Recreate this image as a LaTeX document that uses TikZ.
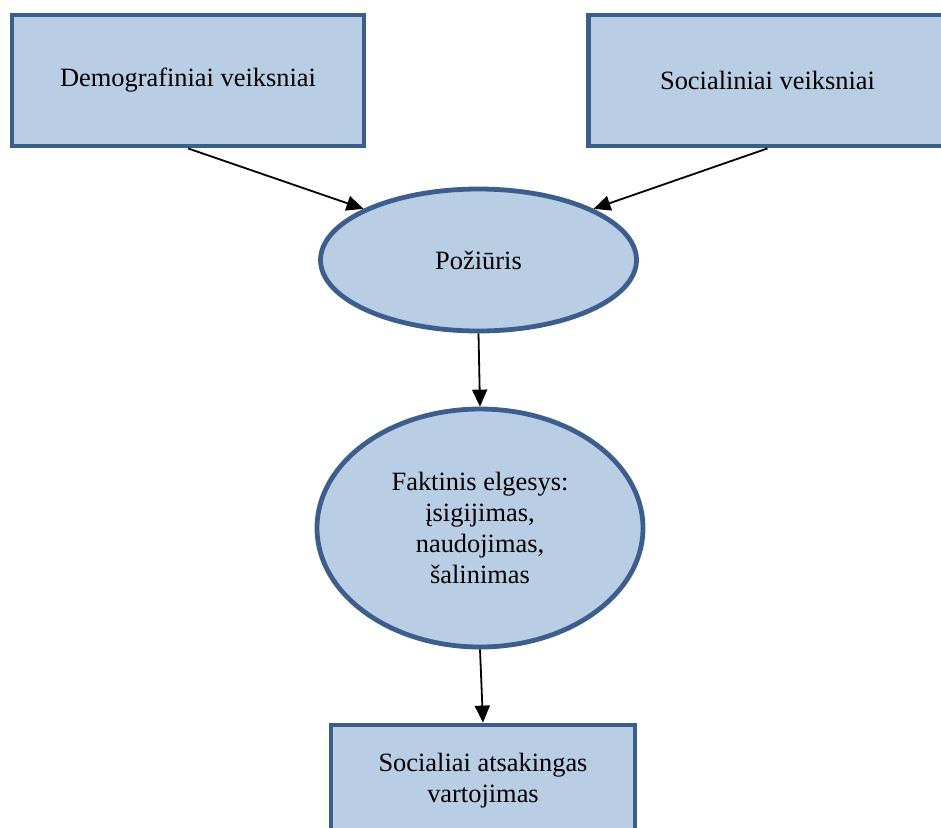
\documentclass[tikz,border=0pt]{standalone}
\usepackage{fontspec}
\setmainfont{Liberation Serif}
\usetikzlibrary{shapes.geometric,arrows.meta}
\definecolor{boxfill}{HTML}{B9CDE5}
\definecolor{boxline}{HTML}{3B5E8C}
\begin{document}
\begin{tikzpicture}[x=0.5pt,y=-0.5pt,
  txt/.style={font=\fontsize{13.2pt}{15.6pt}\selectfont, align=center},
  factor/.style={txt, draw=boxline, fill=boxfill, line width=2.4pt, rectangle,
    inner sep=0pt},
  stage/.style={txt, draw=boxline, fill=boxfill, line width=2.4pt, ellipse,
    inner sep=0pt},
  link/.style={line width=0.9pt, -{Triangle[length=8.5pt,width=7.5pt]}}]
  \useasboundingbox (0,0) rectangle (941,827);
  % input factors
  \node[factor, minimum width=176pt, minimum height=65.5pt] (demo) at (188,80.5)
    {Demografiniai veiksniai};
  \node[factor, minimum width=179pt, minimum height=65.5pt] (soc) at (767.5,80.5)
    {Socialiniai veiksniai};
  % attitude and behaviour
  \node[stage, minimum width=158pt, minimum height=71pt] (att) at (478.5,260)
    {Požiūris};
  \node[stage, minimum width=163pt, minimum height=119pt] (beh) at (480,528)
    {Faktinis elgesys:\\įsigijimas,\\naudojimas,\\šalinimas};
  % outcome
  \node[factor, minimum width=152pt, minimum height=56pt] (out) at (483,781)
    {Socialiai atsakingas\\vartojimas};
  % connectors
  \draw[link] (demo.south) -- (att.156);
  \draw[link] (soc.south) -- (att.24);
  \draw[link] (att.south) -- (beh.north);
  \draw[link] (beh.south) -- (out.north);
\end{tikzpicture}
\end{document}
